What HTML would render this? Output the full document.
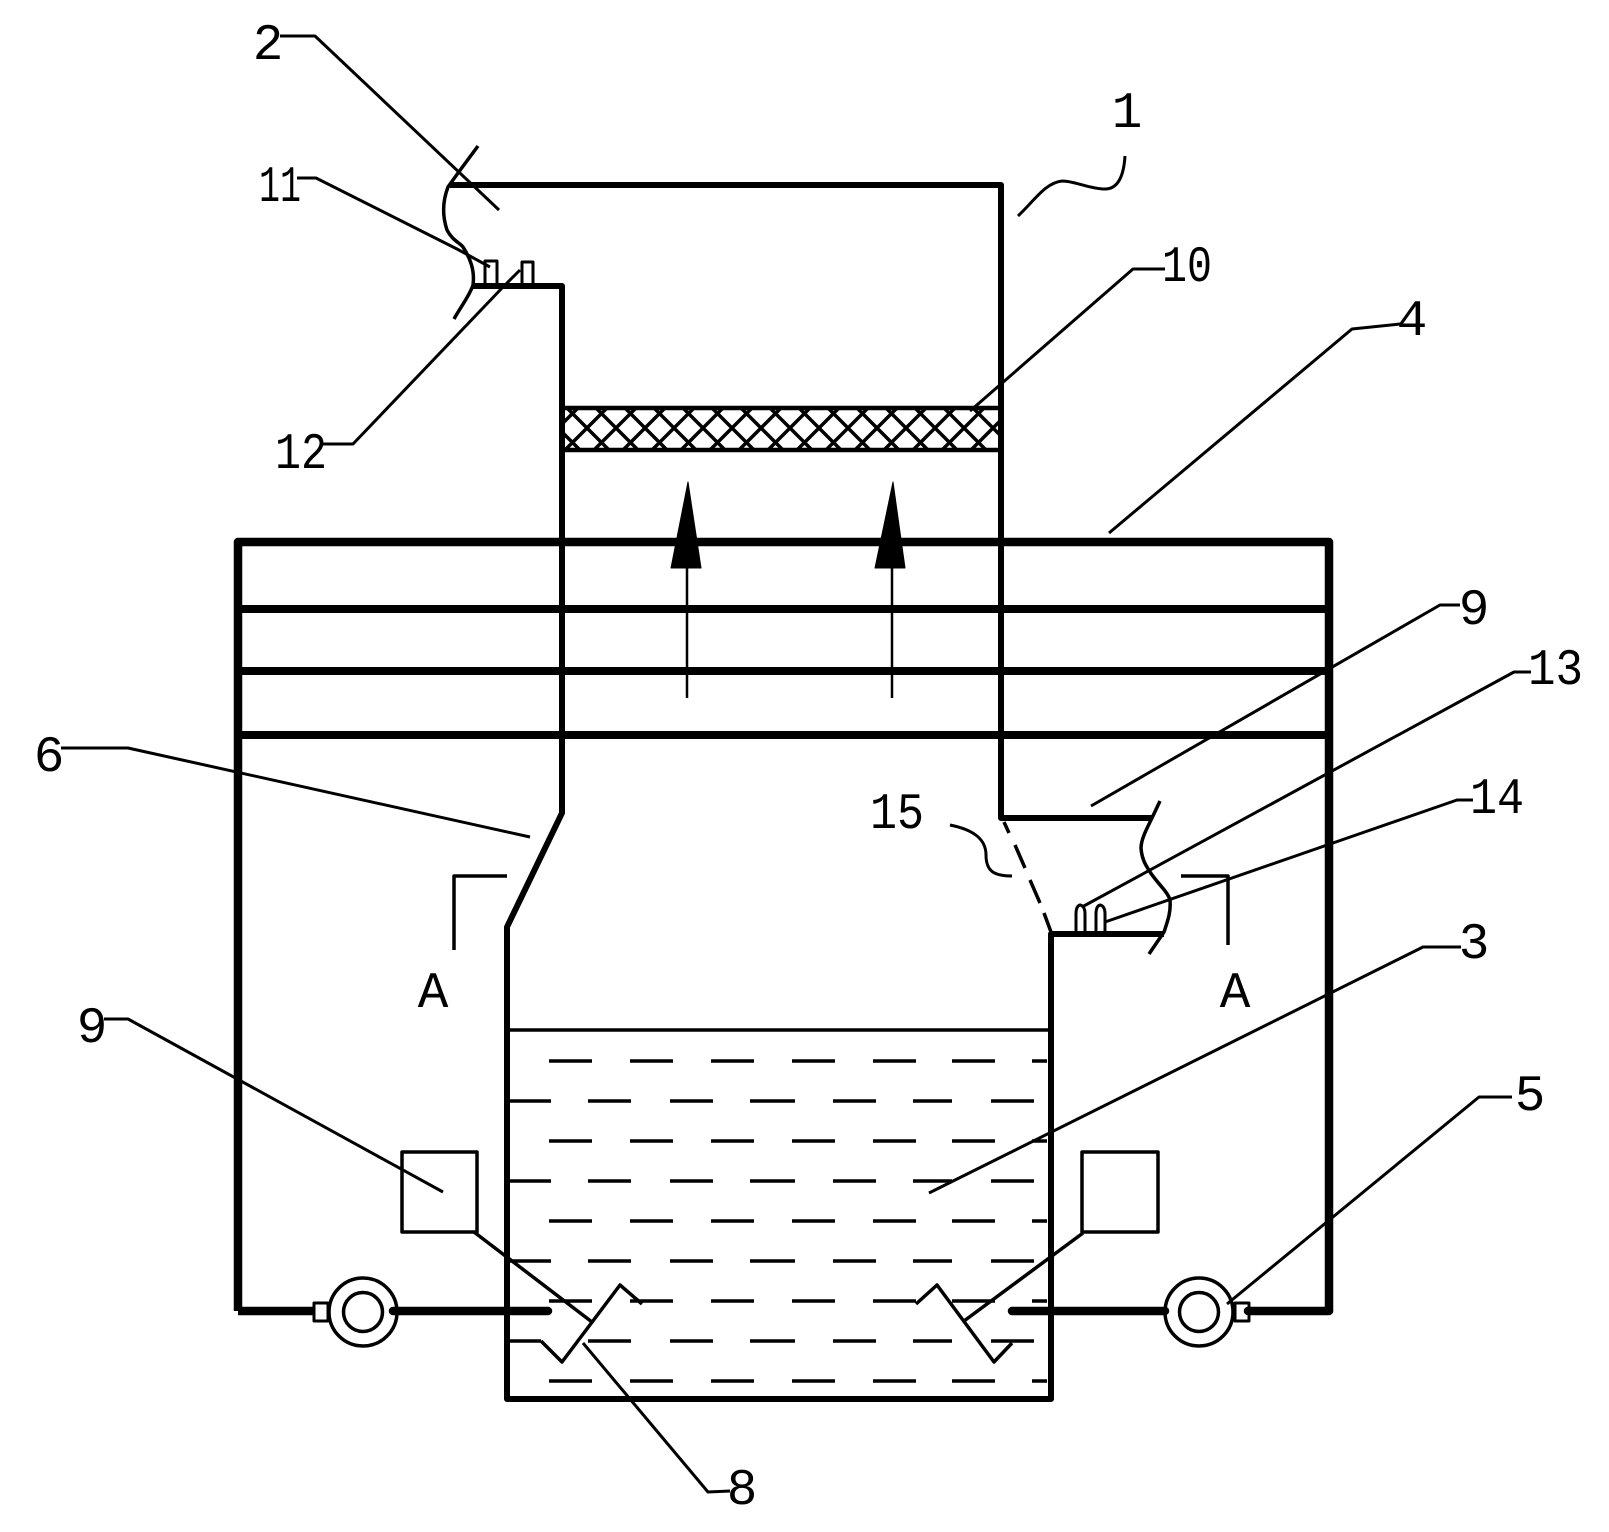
<!DOCTYPE html>
<html><head><meta charset="utf-8"><style>
html,body{margin:0;padding:0;background:#fff}
svg{display:block}
text{font-family:"Liberation Mono",monospace;font-size:51px;fill:#000;text-anchor:middle}
text.d{text-anchor:start}
</style></head><body>
<svg width="1609" height="1532" viewBox="0 0 1609 1532" xmlns="http://www.w3.org/2000/svg" fill="none" stroke="#000" stroke-linejoin="round" stroke-linecap="butt">
<defs><clipPath id="m"><rect x="565" y="408" width="434" height="42"/></clipPath></defs>
<rect width="1609" height="1532" fill="#fff" stroke="none"/>

<!-- mesh -->
<g clip-path="url(#m)" stroke-width="3.5">
<path transform="translate(16 0)" d="M500 386l84 84M529 386l84 84M558 386l84 84M587 386l84 84M616 386l84 84M645 386l84 84M674 386l84 84M703 386l84 84M732 386l84 84M761 386l84 84M790 386l84 84M819 386l84 84M848 386l84 84M877 386l84 84M906 386l84 84M935 386l84 84M964 386l84 84"/>
<path transform="translate(-16 0)" d="M616 386l-84 84M645 386l-84 84M674 386l-84 84M703 386l-84 84M732 386l-84 84M761 386l-84 84M790 386l-84 84M819 386l-84 84M848 386l-84 84M877 386l-84 84M906 386l-84 84M935 386l-84 84M964 386l-84 84M993 386l-84 84M1022 386l-84 84M1051 386l-84 84M1080 386l-84 84M1109 386l-84 84"/>
</g>
<path d="M564 408H1000M564 450H1000" stroke-width="4.5"/>

<!-- upper tower and tank outline -->
<path d="M450 185H1001V818H1152" stroke-width="6"/>
<path d="M473 286H562V813L507 927V1399H1051V934H1164" stroke-width="6"/>
<path d="M1004 822L1009 833M1015 845L1025 868M1030 880L1040 903M1044 913L1051 932" stroke-width="3.5"/>

<!-- bands -->
<path d="M238 1311V542H1329V1311" stroke-width="8.5"/>
<path d="M238 609H1329M238 671H1329M238 735H1329" stroke-width="8"/>

<!-- arrows -->
<path d="M687 568V698M892 568V698" stroke-width="2.5"/>
<path d="M688 482L701 568H671ZM893 482L905 568H875Z" fill="#000" stroke="#000" stroke-width="1"/>

<!-- pipes -->
<path d="M238 1311H315" stroke-width="8.5"/>
<path d="M393 1311H548M1012 1311H1165M1248 1311H1329" stroke-width="8.5" stroke-linecap="round"/>
<rect x="314" y="1303" width="14" height="18" stroke-width="3"/>
<rect x="1235" y="1303" width="14" height="18" stroke-width="3"/>
<circle cx="363" cy="1312" r="34" stroke-width="3.5"/>
<circle cx="363" cy="1312" r="19.5" stroke-width="3.5"/>
<circle cx="1199" cy="1312" r="34" stroke-width="3.5"/>
<circle cx="1199" cy="1312" r="19.5" stroke-width="3.5"/>

<!-- squares -->
<rect x="402" y="1152" width="75" height="80" stroke-width="3.5"/>
<rect x="1082" y="1152" width="76" height="80" stroke-width="3.5"/>

<!-- liquid -->
<path d="M506 1030H1051" stroke-width="3.5"/>
<g stroke-width="3.5">
<path d="M549 1061h43M630 1061h43M711 1061h43M792 1061h43M873 1061h43M952 1061h43M1032 1061h15"/>
<path d="M509 1101h42M588 1101h43M670 1101h43M750 1101h45M833 1101h43M913 1101h39M991 1101h43"/>
<path d="M549 1141h43M630 1141h43M711 1141h43M792 1141h43M873 1141h43M952 1141h43M1032 1141h15"/>
<path d="M509 1181h42M588 1181h43M670 1181h43M750 1181h45M833 1181h43M913 1181h39M991 1181h43"/>
<path d="M549 1221h43M630 1221h43M711 1221h43M792 1221h43M873 1221h43M952 1221h43M1032 1221h15"/>
<path d="M509 1261h42M588 1261h43M670 1261h43M750 1261h45M833 1261h43M913 1261h39M991 1261h43"/>
<path d="M549 1301h43M630 1301h43M711 1301h43M792 1301h43M873 1301h43M952 1301h43M1032 1301h15"/>
<path d="M509 1341h32M588 1341h43M670 1341h43M750 1341h45M833 1341h43M913 1341h39M991 1341h43"/>
<path d="M549 1381h43M630 1381h43M711 1381h43M792 1381h43M873 1381h43M952 1381h43M1032 1381h15"/>
</g>

<!-- coils -->
<path d="M541 1341L562 1362L620 1285L642 1304" stroke-width="3.5"/>
<path d="M916 1304L937 1285L994 1362L1012 1343" stroke-width="3.5"/>
<path d="M474 1232L592 1322" stroke-width="3.5"/>
<path d="M1083 1233L964 1321" stroke-width="3.5"/>

<!-- pins -->
<rect x="485" y="261" width="12" height="25" stroke-width="3"/>
<rect x="522" y="262" width="11" height="24" stroke-width="3"/>
<path d="M1076 932V914Q1076 906 1080 905Q1085 906 1085 914V932M1096 932V914Q1096 906 1100 905Q1105 906 1105 914V932" stroke-width="3"/>

<!-- break curves -->
<path d="M478 146L458 173L448 187C443 200 442 215 447 230C452 240 460 243 463 247C470 258 475 270 473 285C470 295 460 308 454 319" stroke-width="3.5"/>
<path d="M1160 801L1152 818C1146 830 1141 840 1141 848C1142 862 1148 868 1150 872C1158 884 1168 892 1170 900C1171 912 1168 920 1164 932L1149 954" stroke-width="3.5"/>

<!-- section A -->
<path d="M454 950V876H507" stroke-width="3.5"/>
<path d="M1181 876H1228V945" stroke-width="3.5"/>

<!-- leaders -->
<g stroke-width="3">
<path d="M280 36H315L499 210"/>
<path d="M297 178H316L457 249L490 267"/>
<path d="M323 444H353L503 287L520 270"/>
<path d="M1125 156C1124 172 1120 189 1105 189C1090 189 1075 181 1062 181C1045 183 1035 200 1018 216"/>
<path d="M1165 269H1133L970 411"/>
<path d="M1400 324L1352 329L1109 533"/>
<path d="M1460 605H1440L1091 806"/>
<path d="M1531 672H1514L1082 907"/>
<path d="M1473 800H1457L1105 922"/>
<path d="M950 825C975 830 986 840 986 855C986 872 995 876 1012 876"/>
<path d="M1461 947H1423L929 1193"/>
<path d="M1512 1097H1479L1227 1304"/>
<path d="M583 1343L708 1492L730 1491"/>
<path d="M61 748H128L530 837"/>
<path d="M104 1019H128L443 1192"/>
</g>

<!-- labels -->
<g stroke="none">
<text x="268" y="59">2</text>
<text class="d" x="259" y="201" textLength="42" lengthAdjust="spacingAndGlyphs">11</text>
<text class="d" x="275" y="468" textLength="52" lengthAdjust="spacingAndGlyphs">12</text>
<text x="1127" y="127">1</text>
<text class="d" x="1162" y="281" textLength="50" lengthAdjust="spacingAndGlyphs">10</text>
<text x="1412" y="335">4</text>
<text x="1474" y="624">9</text>
<text class="d" x="1528" y="684" textLength="55" lengthAdjust="spacingAndGlyphs">13</text>
<text class="d" x="1470" y="813" textLength="54" lengthAdjust="spacingAndGlyphs">14</text>
<text class="d" x="870" y="828" textLength="54" lengthAdjust="spacingAndGlyphs">15</text>
<text x="1474" y="958">3</text>
<text x="1530" y="1110">5</text>
<text x="742" y="1504">8</text>
<text x="49" y="771">6</text>
<text x="92" y="1042">9</text>
<text x="433" y="1007">A</text>
<text x="1235" y="1007">A</text>
</g>
</svg>
</body></html>
